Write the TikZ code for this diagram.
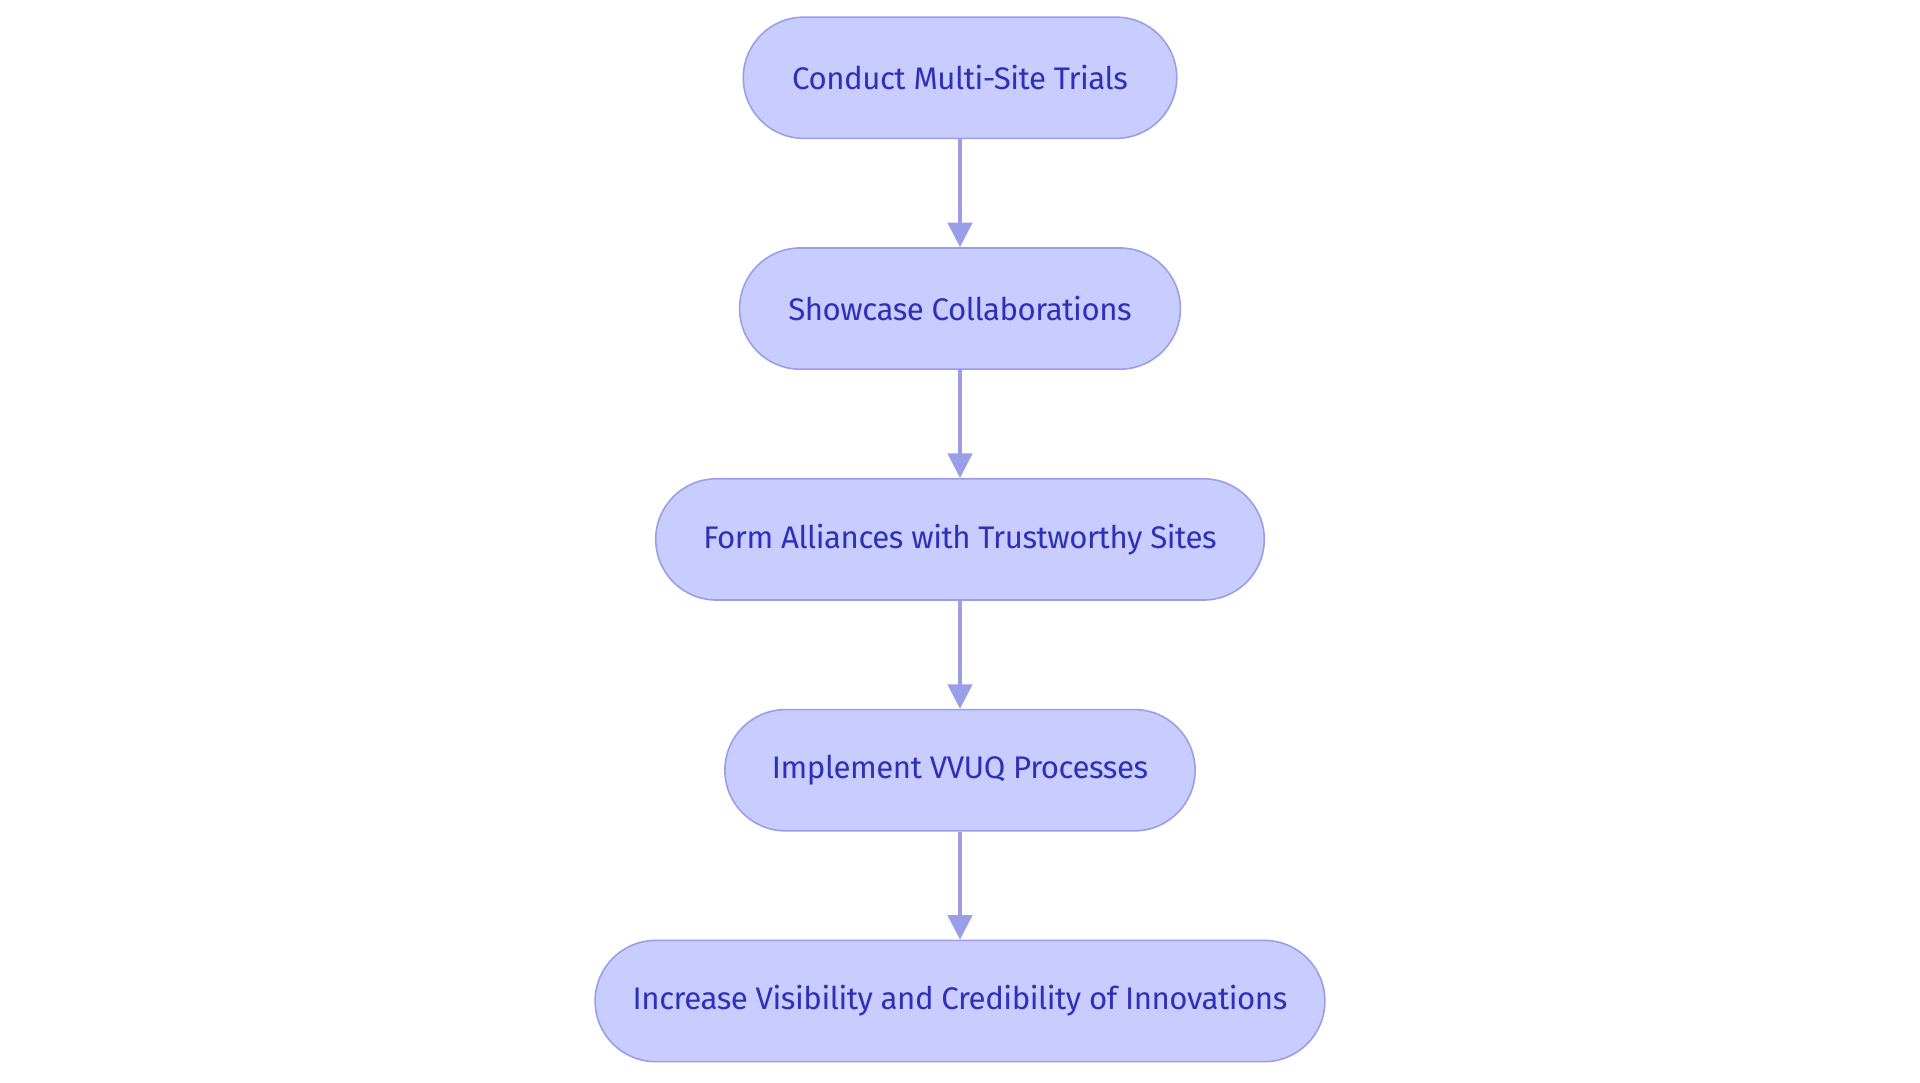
\documentclass[tikz,border=0pt]{standalone}
\usepackage{fontspec}
\setmainfont{Fira Sans}
\usetikzlibrary{arrows.meta}
\definecolor{fillc}{HTML}{C8CCFE}
\definecolor{linec}{HTML}{9A9EE8}
\definecolor{textc}{HTML}{2E30B8}
\begin{document}
\begin{tikzpicture}[x=1pt,y=-1pt,
  box/.style={draw=linec,line width=1.3pt,fill=fillc,rounded corners=49.5pt,minimum height=99pt,text=textc,font=\fontsize{25.5}{30}\selectfont\addfontfeatures{LetterSpace=-1.5}},
  arr/.style={draw=linec,line width=2.5pt,-{Triangle[length=20pt,width=20pt]}}]
\useasboundingbox (0,0) rectangle (1568,884);
\node[box,minimum width=354pt] (a) at (784,63.5) {Conduct Multi-Site Trials};
\node[box,minimum width=360pt] (b) at (784,252) {Showcase Collaborations};
\node[box,minimum width=497pt] (c) at (784,440.5) {Form Alliances with Trustworthy Sites};
\node[box,minimum width=384pt] (d) at (784,629) {Implement VVUQ Processes};
\node[box,minimum width=596pt] (e) at (784,817.5) {Increase Visibility and Credibility of Innovations};
\draw[arr] (a) -- (b);
\draw[arr] (b) -- (c);
\draw[arr] (c) -- (d);
\draw[arr] (d) -- (e);
\end{tikzpicture}
\end{document}
